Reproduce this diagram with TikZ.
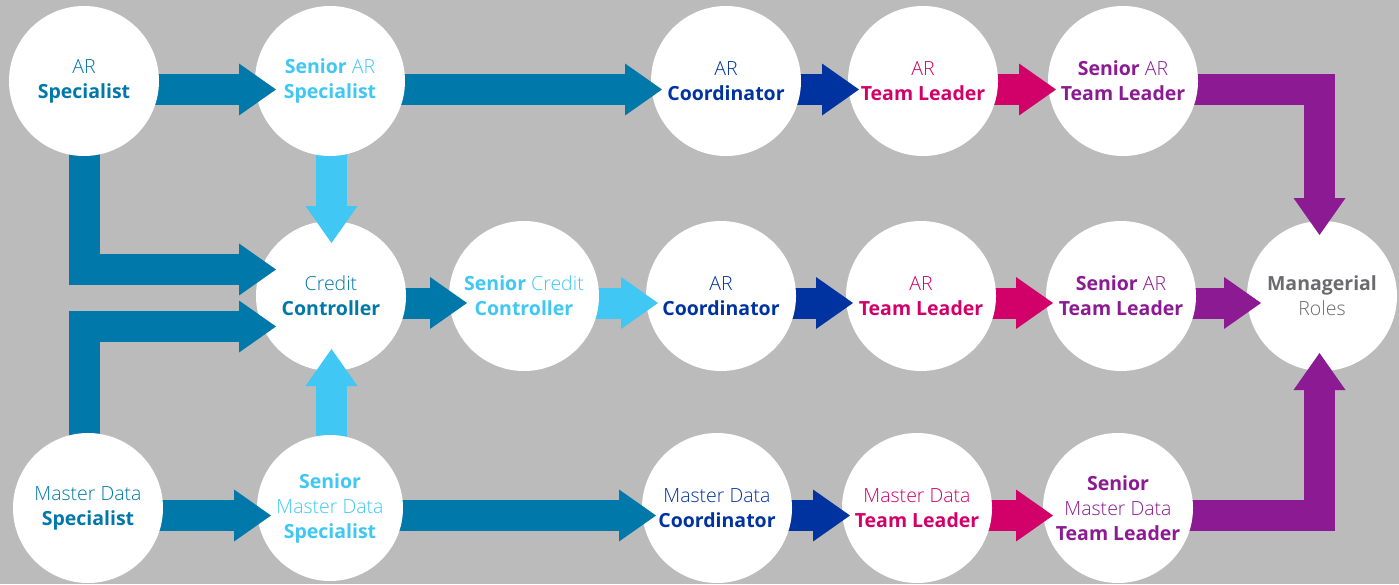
\documentclass[tikz,border=0pt]{standalone}
\usepackage{fontspec}
\setmainfont{Open Sans}
\IfFontExistsTF{Open Sans Light}{\newfontfamily\lightf{Open Sans Light}}{%
  \IfFontExistsTF{Lato Light}{\newfontfamily\lightf{Lato Light}}{\newfontfamily\lightf{Open Sans}}}
\IfFontExistsTF{Open Sans Bold}{\newfontfamily\boldf{Open Sans Bold}}{%
  \IfFontExistsTF{Liberation Sans Bold}{\newfontfamily\boldf{Liberation Sans Bold}}{\newfontfamily\boldf{Liberation Sans}[UprightFont=*, BoldFont=*]}}
\usetikzlibrary{calc}
\definecolor{bgc}{HTML}{BBBBBB}
\definecolor{tealc}{HTML}{0078A9}
\definecolor{lblue}{HTML}{40C7F4}
\definecolor{navyc}{HTML}{0033A0}
\definecolor{pinkc}{HTML}{D20069}
\definecolor{purpc}{HTML}{8C1A92}
\definecolor{grayc}{HTML}{6B6B6E}
\pgfdeclarelayer{bg}
\pgfsetlayers{bg,main}
\newcommand\lw[1]{{\lightf #1}}
\newcommand\bw[1]{{\boldf #1}}
% horizontal flow: color, source, target, tip x offset from target centre, y offset
\newcommand\flowH[5]{%
  \begin{pgfonlayer}{bg}
    \draw[sh,#1] ($(#2.center)+(0,#5)$) -- ($(#3.center)+(#4-27,#5)$);
  \end{pgfonlayer}
  \fill[#1] ($(#3.center)+(#4,#5)$) -- ++(-37,-26) -- ++(0,52) -- cycle;}
\tikzset{
  role/.style={circle, fill=white, minimum size=150pt, inner sep=0pt,
    align=center, font=\fontsize{19.5}{25}\selectfont},
  sh/.style={line width=31pt, line join=miter, line cap=butt},
}
\begin{document}
\begin{tikzpicture}[x=1pt,y=-1pt]
\useasboundingbox (0,0) rectangle (1399,584);
\begin{pgfonlayer}{bg}
  \fill[bgc] (0,0) rectangle (1399,584);
\end{pgfonlayer}
% row 1
\node[role,text=tealc] (ars) at (84,81) {\lw{AR}\\\bw{Specialist}};
\node[role,text=lblue] (sars) at (330,81) {\bw{Senior} \lw{AR}\\\bw{Specialist}};
\node[role,text=navyc] (arc1) at (726,81) {\lw{AR}\\\bw{Coordinator}};
\node[role,text=pinkc] (artl1) at (923,81) {\lw{AR}\\\bw{Team Leader}};
\node[role,text=purpc] (sartl1) at (1123,81) {\bw{Senior} \lw{AR}\\\bw{Team Leader}};
% row 2
\node[role,text=tealc] (cc) at (331,296) {\lw{Credit}\\\bw{Controller}};
\node[role,text=lblue] (scc) at (524,296) {\bw{Senior} \lw{Credit}\\\bw{Controller}};
\node[role,text=navyc] (arc2) at (721,296) {\lw{AR}\\\bw{Coordinator}};
\node[role,text=pinkc] (artl2) at (921,296) {\lw{AR}\\\bw{Team Leader}};
\node[role,text=purpc] (sartl2) at (1121,296) {\bw{Senior} \lw{AR}\\\bw{Team Leader}};
\node[role,text=grayc] (mgr) at (1322,296) {\bw{Managerial}\\\lw{Roles}};
% row 3
\node[role,text=tealc] (mds) at (88,508) {\lw{Master Data}\\\bw{Specialist}};
\node[role,text=lblue,minimum size=146pt] (smds) at (330,508) {\bw{Senior}\\\lw{Master Data}\\\bw{Specialist}};
\node[role,text=navyc] (mdc) at (717,508) {\lw{Master Data}\\\bw{Coordinator}};
\node[role,text=pinkc] (mdtl) at (917,508) {\lw{Master Data}\\\bw{Team Leader}};
\node[role,text=purpc] (smdtl) at (1118,508) {\bw{Senior}\\\lw{Master Data}\\\bw{Team Leader}};
% row 1 flows
\flowH{tealc}{ars}{sars}{-54}{8.5}
\flowH{tealc}{sars}{arc1}{-64}{8.5}
\flowH{navyc}{arc1}{artl1}{-64}{8.5}
\flowH{pinkc}{artl1}{sartl1}{-67}{8.5}
% row 2 flows
\flowH{tealc}{cc}{scc}{-57}{7}
\flowH{lblue}{scc}{arc2}{-63}{7}
\flowH{navyc}{arc2}{artl2}{-68}{7}
\flowH{pinkc}{artl2}{sartl2}{-68}{7}
\flowH{purpc}{sartl2}{mgr}{-61}{7}
% row 3 flows
\flowH{tealc}{mds}{smds}{-59}{7.5}
\flowH{tealc}{smds}{mdc}{-61}{7.5}
\flowH{navyc}{mdc}{mdtl}{-67}{7.5}
\flowH{pinkc}{mdtl}{smdtl}{-65}{7.5}
% elbows into credit controller and managerial roles
\begin{pgfonlayer}{bg}
  \draw[sh,tealc] ($(ars.center)+(0.5,0)$) |- ($(cc.center)+(-82,-26.5)$);
  \draw[sh,tealc] ($(mds.center)+(-3.5,0)$) |- ($(cc.center)+(-82,30.5)$);
  \draw[sh,lblue] ($(sars.center)+(1.5,0)$) -- ($(cc.center)+(0.5,-80)$);
  \draw[sh,lblue] ($(smds.center)+(1.5,0)$) -- ($(cc.center)+(0.5,80)$);
  \draw[sh,purpc] ($(sartl1.center)+(0,8.5)$) -| ($(mgr.center)+(-2.5,-87)$);
  \draw[sh,purpc] ($(smdtl.center)+(0,7.5)$) -| ($(mgr.center)+(-2.5,85)$);
\end{pgfonlayer}
\fill[tealc] ($(cc.center)+(-55,-26.5)$) -- ++(-37,-26) -- ++(0,52) -- cycle;
\fill[tealc] ($(cc.center)+(-55,30.5)$) -- ++(-37,-26) -- ++(0,52) -- cycle;
\fill[lblue] ($(cc.center)+(0.5,-53)$) -- ++(-26,-37) -- ++(52,0) -- cycle;
\fill[lblue] ($(cc.center)+(0.5,53)$) -- ++(-26,37) -- ++(52,0) -- cycle;
\fill[purpc] ($(mgr.center)+(-2.5,-61)$) -- ++(-26,-37) -- ++(52,0) -- cycle;
\fill[purpc] ($(mgr.center)+(-2.5,57)$) -- ++(-26,37) -- ++(52,0) -- cycle;
\end{tikzpicture}
\end{document}
